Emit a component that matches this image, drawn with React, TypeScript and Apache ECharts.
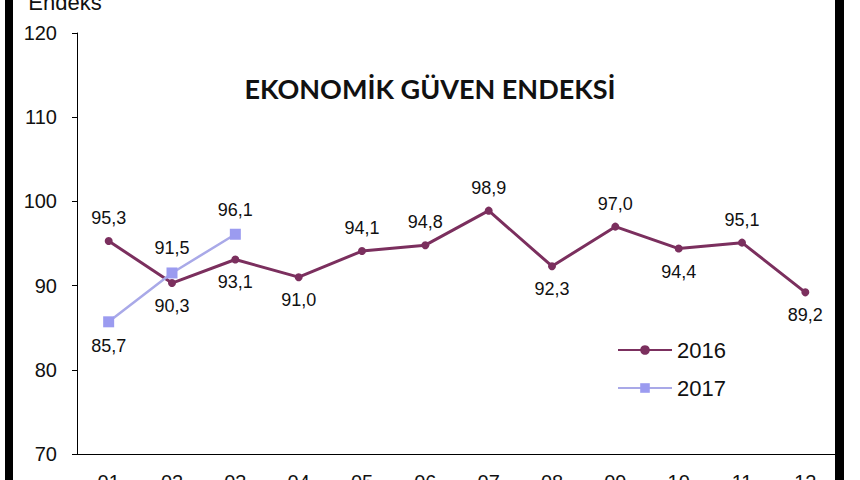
import React, { useEffect, useRef } from "react";
import * as echarts from "echarts";

const months = ["01", "02", "03", "04", "05", "06", "07", "08", "09", "10", "11", "12"];
const values2016 = [95.3, 90.3, 93.1, 91.0, 94.1, 94.8, 98.9, 92.3, 97.0, 94.4, 95.1, 89.2];
const values2017 = [85.7, 91.5, 96.1];
const labelPos2016 = ["top", "bottom", "bottom", "bottom", "top", "top", "top", "bottom", "top", "bottom", "top", "bottom"];
const labelPos2017 = ["bottom", "top", "top"];
const yTicks = { min: 70, max: 120, interval: 10 };

const fmt = (v: number) => v.toFixed(1).replace(".", ",");

export default function App() {
  const ref = useRef<HTMLDivElement>(null);
  useEffect(() => {
    if (!ref.current) return;
    const chart = echarts.init(ref.current, null, { renderer: "svg" });
    const font = "Liberation Sans, Arial, sans-serif";
    const mk = (vals: number[], pos: string[]) =>
      vals.map((v, i) => ({ value: v, label: { position: pos[i] } }));
    chart.setOption({
      animation: false,
      backgroundColor: "#ffffff",
      title: {
        text: "EKONOMİK GÜVEN ENDEKSİ",
        left: "center",
        top: 70,
        textStyle: { fontFamily: "Lato, Open Sans, sans-serif", fontWeight: "bold", fontSize: 27, color: "#111111" },
      },
      grid: { left: 77, right: 23, top: 33, bottom: 26, outerBoundsMode: "none" },
      legend: {
        orient: "vertical",
        left: 612,
        top: 334,
        itemWidth: 54,
        itemHeight: 12,
        itemGap: 16,
        textStyle: { fontFamily: font, fontSize: 22, color: "#111111", padding: [0, 0, 0, 0] },
        data: ["2016", "2017"],
      },
      xAxis: {
        type: "category",
        data: months,
        boundaryGap: true,
        axisLine: { lineStyle: { color: "#000000", width: 1 } },
        axisTick: { alignWithLabel: true, length: 5, lineStyle: { color: "#000000" } },
        axisLabel: { fontFamily: font, fontSize: 20, color: "#111111", margin: 18 },
      },
      yAxis: {
        type: "value",
        min: yTicks.min,
        max: yTicks.max,
        interval: yTicks.interval,
        name: "Endeks",
        nameLocation: "end",
        nameGap: 20,
        nameTextStyle: { fontFamily: font, fontSize: 22, color: "#111111", align: "center", padding: [0, 24, 0, 0] },
        splitLine: { show: false },
        axisLine: { show: true, lineStyle: { color: "#000000", width: 1 } },
        axisTick: { show: true, length: 5, lineStyle: { color: "#000000" } },
        axisLabel: { fontFamily: font, fontSize: 20, color: "#111111", margin: 20 },
      },
      series: [
        {
          name: "2016",
          type: "line",
          data: mk(values2016, labelPos2016),
          symbol: "circle",
          symbolSize: 8,
          itemStyle: { color: "#7b2f5e" },
          lineStyle: { color: "#7b2f5e", width: 3 },
          label: { show: true, distance: 10, fontFamily: font, fontSize: 18, color: "#111111", formatter: (p: any) => fmt(p.value) },
        },
        {
          name: "2017",
          type: "line",
          data: mk(values2017, labelPos2017),
          symbol: "rect",
          symbolSize: 11,
          itemStyle: { color: "#9b9bf0" },
          lineStyle: { color: "#a9a9e8", width: 2.5 },
          label: { show: true, distance: 10, fontFamily: font, fontSize: 18, color: "#111111", formatter: (p: any) => fmt(p.value) },
        },
      ],
      graphic: [
        { type: "rect", left: 5, top: 0, shape: { width: 8, height: 480 }, style: { fill: "#000000" }, silent: true },
        { type: "rect", left: 835, top: 0, shape: { width: 9, height: 480 }, style: { fill: "#000000" }, silent: true },
      ],
    });
    return () => chart.dispose();
  }, []);
  return <div ref={ref} style={{ position: "fixed", left: 0, top: 0, width: 860, height: 480 }} />;
}
